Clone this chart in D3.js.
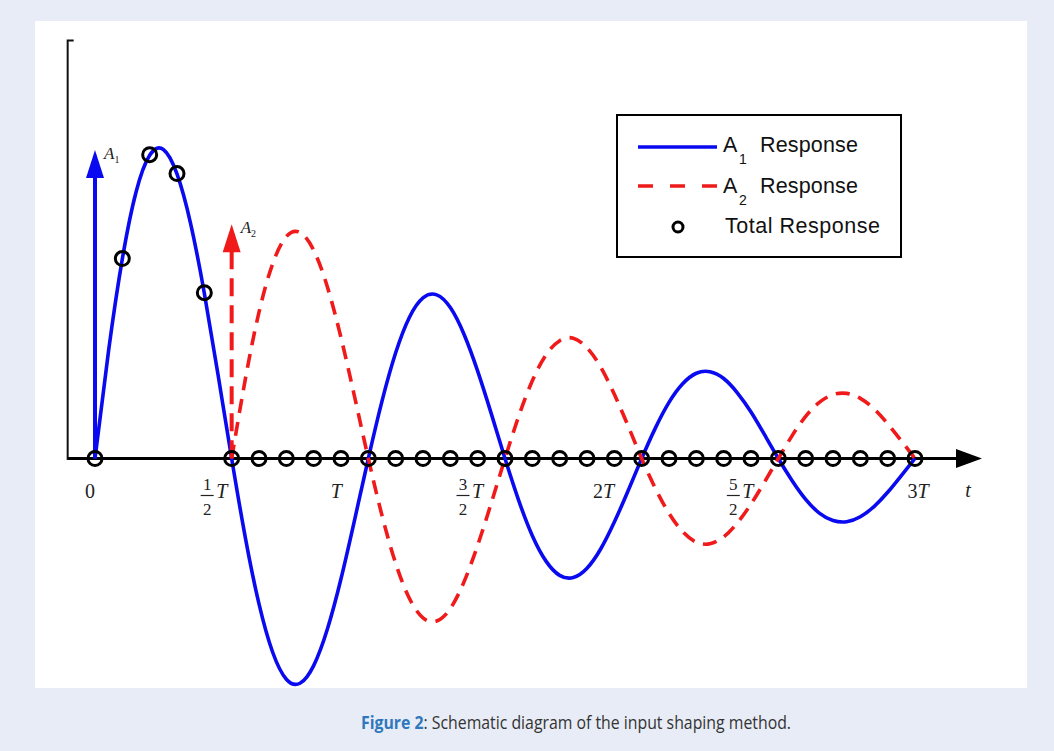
<!DOCTYPE html>
<html><head><meta charset="utf-8">
<script src="https://cdn.jsdelivr.net/npm/d3@7"></script>
<style>html,body{margin:0;padding:0;background:#e8ecf6;} svg{display:block}</style>
</head><body><svg id="c" width="1054" height="751"></svg>
<script>
// ---- data (time in units of T, amplitude relative to impulse A1) ----
const tA1 = [0,0.05,0.1,0.15,0.2,0.25,0.3,0.35,0.4,0.45,
  0.5,0.55,0.6,0.65,0.7,0.75,0.8,0.85,0.9,0.95,
  1,1.05,1.1,1.15,1.2,1.25,1.3,1.35,1.4,1.45,
  1.5,1.55,1.6,1.65,1.7,1.75,1.8,1.85,1.9,1.95,
  2,2.05,2.1,2.15,2.2,2.25,2.3,2.35,2.4,2.45,
  2.5,2.55,2.6,2.65,2.7,2.75,2.8,2.85,2.9,2.95,3];
const a1Response = [0,0.350,0.644,0.859,0.978,0.997,0.918,0.757,0.533,0.271,
  0,-0.255,-0.469,-0.625,-0.712,-0.725,-0.668,-0.551,-0.388,-0.197,
  0,0.185,0.341,0.455,0.518,0.528,0.487,0.401,0.282,0.144,
  0,-0.135,-0.249,-0.331,-0.377,-0.384,-0.354,-0.292,-0.205,-0.105,
  0,0.098,0.181,0.241,0.275,0.280,0.258,0.212,0.150,0.076,
  0,-0.071,-0.132,-0.176,-0.200,-0.204,-0.188,-0.155,-0.109,-0.055,0];
const tA2 = [0.5,0.55,0.6,0.65,0.7,0.75,0.8,0.85,0.9,0.95,
  1,1.05,1.1,1.15,1.2,1.25,1.3,1.35,1.4,1.45,
  1.5,1.55,1.6,1.65,1.7,1.75,1.8,1.85,1.9,1.95,
  2,2.05,2.1,2.15,2.2,2.25,2.3,2.35,2.4,2.45,
  2.5,2.55,2.6,2.65,2.7,2.75,2.8,2.85,2.9,2.95,3];
const a2Response = [0,0.256,0.472,0.628,0.716,0.729,0.672,0.554,0.390,0.198,
  0,-0.184,-0.338,-0.451,-0.514,-0.524,-0.484,-0.398,-0.280,-0.143,
  0,0.136,0.251,0.334,0.380,0.388,0.357,0.295,0.207,0.106,
  0,-0.096,-0.177,-0.236,-0.270,-0.275,-0.253,-0.208,-0.147,-0.075,
  0,0.073,0.136,0.181,0.206,0.210,0.194,0.160,0.112,0.057,0];
const tTotal = [0,0.1,0.2,0.3,0.4,0.5,0.6,0.7,0.8,0.9,1,1.1,1.2,1.3,1.4,1.5,
  1.6,1.7,1.8,1.9,2,2.1,2.2,2.3,2.4,2.5,2.6,2.7,2.8,2.9,3];
const totalResponse = [0,0.645,0.980,0.919,0.535,0,0,0,0,0,0,0,0,0,0,0,
  0,0,0,0,0,0,0,0,0,0,0,0,0,0,0];
const impulses = [{t:0, a:0.995, name:"A", sub:"1"}, {t:0.5, a:0.756, name:"A", sub:"2"}];
const tickValues = [0, 0.5, 1, 1.5, 2, 2.5, 3];
const tickLabels = ["0", "1/2 T", "T", "3/2 T", "2T", "5/2 T", "3T"];
const axisName = "t";
const legendLabels = [["A","1","Response"],["A","2","Response"],["","","Total Response"]];

// ---- layout ----
const W = 1054, H = 751;
const svg = d3.select("#c");
const blue = "#0a0af0", red = "#f01a1a";
const x = d3.scaleLinear().domain([0, 3]).range([95, 915]);
const y = d3.scaleLinear().domain([-1, 1]).range([458.5 + 310, 458.5 - 310]);

svg.append("rect").attr("width", W).attr("height", H).attr("fill", "#e8ecf6");
svg.append("rect").attr("x", 35).attr("y", 21).attr("width", 992).attr("height", 667).attr("fill", "#fff");

// axes
const xLeft = x(-0.1), arrowBase = x(3.15), arrowTip = x(3.245);
svg.append("path").attr("d", `M${xLeft},${y(0)}H${arrowBase}`).attr("stroke", "#000").attr("stroke-width", 3.2).attr("fill", "none");
svg.append("path").attr("d", `M${arrowBase},${y(0)-9.5}L${arrowTip},${y(0)}L${arrowBase},${y(0)+9.5}Z`).attr("fill", "#000");
const yTop = 40.5;
svg.append("path").attr("d", `M${xLeft},${y(0)+1.5}V${yTop}H${xLeft+6}`).attr("stroke", "#111").attr("stroke-width", 2).attr("fill", "none");

// tick labels
const serif = "'Liberation Serif','DejaVu Serif',serif";
const labelDx = [-5, -24.5, -32, -42, -38, -45, 3];
const lab = svg.append("g").attr("font-family", serif).attr("fill", "#222");
tickLabels.forEach((s, i) => {
  const cx = x(tickValues[i]) + labelDx[i];
  if (s.includes("/")) {
    const [frac, sym] = s.split(" ");
    const [n, d] = frac.split("/");
    lab.append("text").attr("x", cx).attr("y", 490).attr("text-anchor", "middle").attr("font-size", 17).text(n);
    lab.append("line").attr("x1", cx - 6.5).attr("x2", cx + 6.5).attr("y1", 495.5).attr("y2", 495.5).attr("stroke", "#222").attr("stroke-width", 1.2);
    lab.append("text").attr("x", cx).attr("y", 515).attr("text-anchor", "middle").attr("font-size", 17).text(d);
    lab.append("text").attr("x", cx + 9).attr("y", 498).attr("font-size", 20).attr("font-style", "italic").text(sym);
  } else {
    const t = lab.append("text").attr("x", cx).attr("y", 498).attr("text-anchor", "middle").attr("font-size", 20);
    const m = s.match(/^(\d*)(T?)$/);
    if (m[1]) t.append("tspan").text(m[1]);
    if (m[2]) t.append("tspan").attr("font-style", "italic").text(m[2]);
  }
});
lab.append("text").attr("x", 968).attr("y", 497).attr("text-anchor", "middle").attr("font-size", 20).attr("font-style", "italic").text(axisName);

// curves
const line = d3.line().x(d => x(d[0])).y(d => y(d[1])).curve(d3.curveNatural);
svg.append("path").datum(tA1.map((t, i) => [t, a1Response[i]])).attr("d", line)
  .attr("fill", "none").attr("stroke", blue).attr("stroke-width", 3.6);
svg.append("path").datum(tA2.map((t, i) => [t, a2Response[i]])).attr("d", line)
  .attr("fill", "none").attr("stroke", red).attr("stroke-width", 3.6).attr("stroke-dasharray", "14,9");

// impulses
impulses.forEach((imp, i) => {
  const col = i === 0 ? blue : red;
  const px = x(imp.t), tip = y(imp.a), base = tip + 27;
  svg.append("path").attr("d", `M${px},${base}V${y(0)}`).attr("stroke", col).attr("stroke-width", 4)
    .attr("stroke-dasharray", i === 0 ? null : "18,9");
  svg.append("path").attr("d", `M${px-9},${base+1}L${px},${tip}L${px+9},${base+1}Z`).attr("fill", col);
  const t = svg.append("text").attr("x", px + 9).attr("y", tip + 9).attr("font-family", serif).attr("font-style", "italic").attr("font-size", 17).attr("fill", "#222");
  t.append("tspan").text(imp.name);
  t.append("tspan").attr("font-size", 10).attr("font-style", "normal").attr("dy", 4).text(imp.sub);
});

// total response circles
svg.append("g").selectAll("circle").data(tTotal.map((t, i) => [t, totalResponse[i]])).join("circle")
  .attr("cx", d => x(d[0])).attr("cy", d => y(d[1])).attr("r", 7)
  .attr("fill", "none").attr("stroke", "#000").attr("stroke-width", 3);

// legend
const sans = "'Liberation Sans',Arial,sans-serif";
const lg = svg.append("g").attr("font-family", sans).attr("fill", "#111");
lg.append("rect").attr("x", 617).attr("y", 115).attr("width", 284).attr("height", 142).attr("fill", "#fff").attr("stroke", "#000").attr("stroke-width", 2);
lg.append("line").attr("x1", 638).attr("x2", 717).attr("y1", 147).attr("y2", 147).attr("stroke", blue).attr("stroke-width", 3.6);
lg.append("line").attr("x1", 638).attr("x2", 717).attr("y1", 186).attr("y2", 186).attr("stroke", red).attr("stroke-width", 3.6).attr("stroke-dasharray", "15,17");
lg.append("circle").attr("cx", 678).attr("cy", 227).attr("r", 5).attr("fill", "none").attr("stroke", "#000").attr("stroke-width", 3);
const rowsY = [152, 193, 233];
legendLabels.forEach((r, i) => {
  if (r[0]) {
    lg.append("text").attr("x", 723).attr("y", rowsY[i]).attr("font-size", 21.5).text(r[0]);
    lg.append("text").attr("x", 739).attr("y", rowsY[i] + 12).attr("font-size", 14).text(r[1]);
    lg.append("text").attr("x", 760).attr("y", rowsY[i]).attr("font-size", 21.5).attr("textLength", 98).text(r[2]);
  } else {
    lg.append("text").attr("x", 725).attr("y", rowsY[i]).attr("font-size", 21.5).attr("textLength", 155).text(r[2]);
  }
});

// caption
const cap = svg.append("text").attr("x", 361).attr("y", 729)
  .attr("font-family", "'Open Sans','Noto Sans',sans-serif").attr("font-size", 17.5).attr("fill", "#333")
  .attr("textLength", 430).attr("lengthAdjust", "spacingAndGlyphs");
cap.append("tspan").attr("font-weight", "bold").attr("fill", "#2f78bd").text("Figure 2");
cap.append("tspan").text(": Schematic diagram of the input shaping method.");
</script></body></html>
